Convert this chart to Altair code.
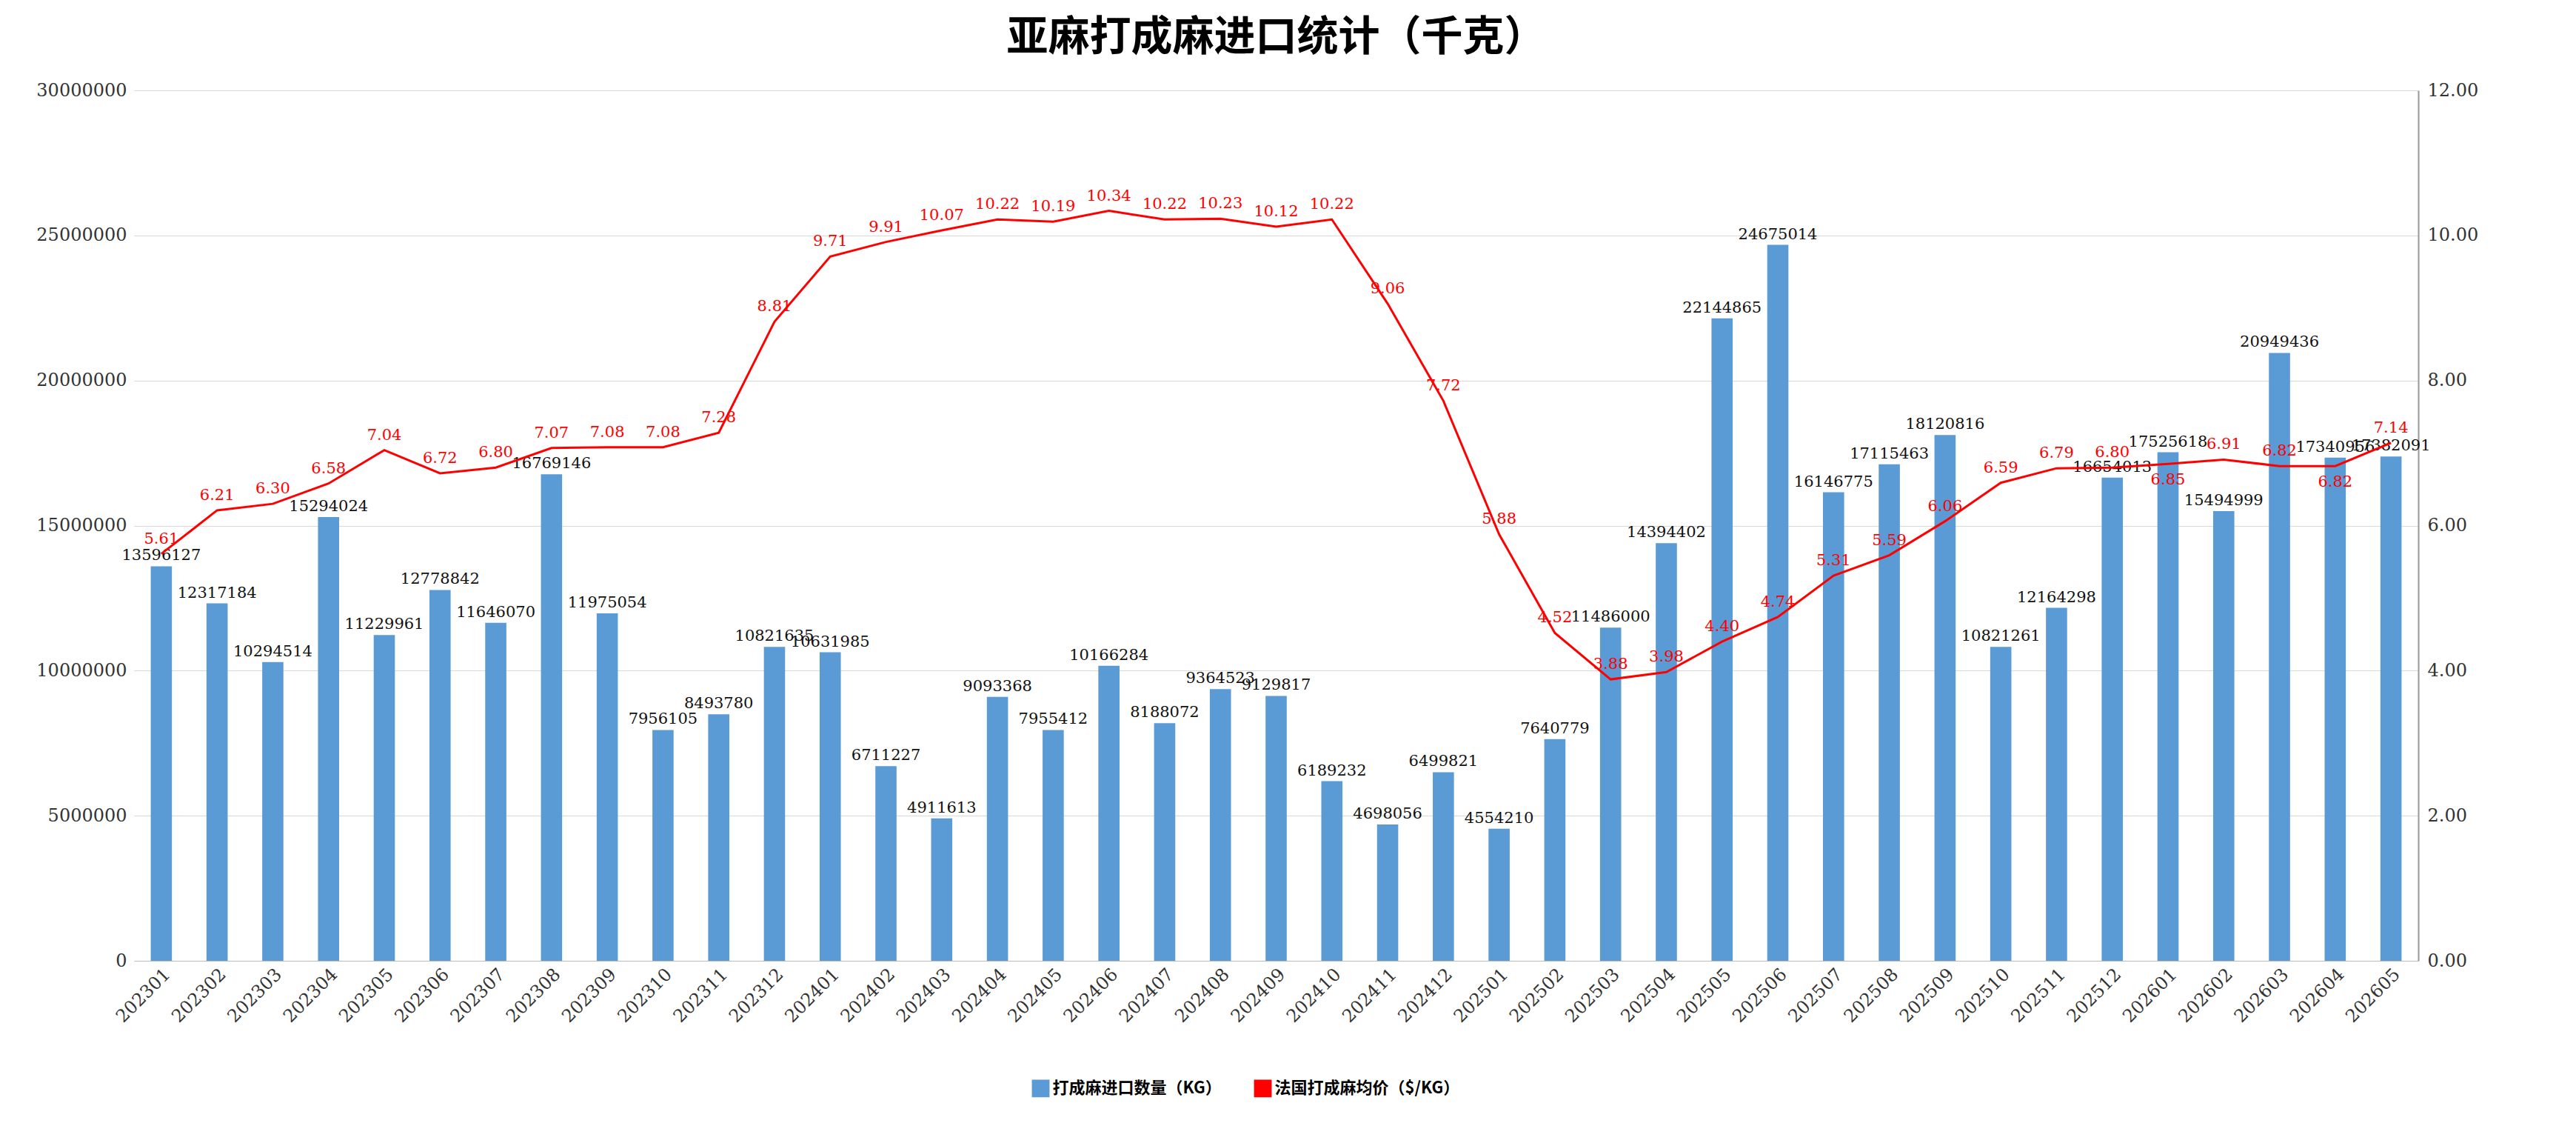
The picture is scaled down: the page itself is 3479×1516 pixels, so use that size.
import altair as alt
import pandas as pd

# ── data ─────────────────────────────────────────────────────────────
months = [
    "202301", "202302", "202303", "202304", "202305", "202306", "202307", "202308",
    "202309", "202310", "202311", "202312", "202401", "202402", "202403", "202404",
    "202405", "202406", "202407", "202408", "202409", "202410", "202411", "202412",
    "202501", "202502", "202503", "202504", "202505", "202506", "202507", "202508",
    "202509", "202510", "202511", "202512", "202601", "202602", "202603", "202604",
    "202605",
]
qty = [
    13596127, 12317184, 10294514, 15294024, 11229961, 12778842, 11646070, 16769146,
    11975054, 7956105, 8493780, 10821635, 10631985, 6711227, 4911613, 9093368,
    7955412, 10166284, 8188072, 9364523, 9129817, 6189232, 4698056, 6499821,
    4554210, 7640779, 11486000, 14394402, 22144865, 24675014, 16146775, 17115463,
    18120816, 10821261, 12164298, 16654013, 17525618, 15494999, 20949436, 17340956,
    17382091,
]
price = [
    5.61, 6.21, 6.30, 6.58, 7.04, 6.72, 6.80, 7.07,
    7.08, 7.08, 7.28, 8.81, 9.71, 9.91, 10.07, 10.22,
    10.19, 10.34, 10.22, 10.23, 10.12, 10.22, 9.06, 7.72,
    5.88, 4.52, 3.88, 3.98, 4.40, 4.74, 5.31, 5.59,
    6.06, 6.59, 6.79, 6.80, 6.85, 6.91, 6.82, 6.82,
    7.14,
]
price_below = ["202601", "202604"]
qty_name = "打成麻进口数量（KG）"
price_name = "法国打成麻均价（$/KG）"

df = pd.DataFrame({"month": months, "qty": qty, "price": price})
df["price_txt"] = [f"{p:.2f}" for p in price]
df["below"] = [m in price_below for m in months]

SERIF = "DejaVu Serif"
CJK = "Noto Sans CJK SC"
W, H = 3085, 1175

x = alt.X("month:N", title=None, sort=months,
          scale=alt.Scale(paddingInner=0.62, paddingOuter=0.3),
          axis=alt.Axis(labelAngle=-45, labelAlign="right", labelFont=SERIF,
                        labelFontSize=24, labelColor="#333", domainColor="#bbb",
                        ticks=False, labelPadding=6))

color = alt.Color("series:N", title=None,
                  scale=alt.Scale(domain=[qty_name, price_name], range=["#5b9bd5", "#ff0000"]),
                  legend=alt.Legend(orient="none", direction="horizontal",
                                    legendX=W / 2 - 330, legendY=H + 160,
                                    labelFont=CJK, labelFontSize=22, labelLimit=0,
                                    labelFontWeight="bold", symbolSize=500,
                                    columnPadding=40))

y_left = alt.Y("qty:Q", title=None,
               scale=alt.Scale(domain=[0, 30000000]),
               axis=alt.Axis(values=list(range(0, 30000001, 5000000)), format="d",
                             labelFont=SERIF, labelFontSize=24, labelColor="#333",
                             gridColor="#d9d9d9", domain=False, ticks=False, labelPadding=10))

bars = alt.Chart(df).transform_calculate(series=f"'{qty_name}'").mark_bar().encode(
    x=x, y=y_left, color=color)

bar_txt = alt.Chart(df).mark_text(dy=-14, font=SERIF, fontSize=21, color="#111").encode(
    x=x, y=y_left, text="qty:Q")

left = alt.layer(bars, bar_txt)

y_right = alt.Y("price:Q", title=None,
                scale=alt.Scale(domain=[0, 12]),
                axis=alt.Axis(orient="right", values=[0, 2, 4, 6, 8, 10, 12], format=".2f",
                              labelFont=SERIF, labelFontSize=24, labelColor="#333",
                              grid=False, domainColor="#999", domainWidth=2,
                              ticks=False, labelPadding=12))

line = alt.Chart(df).transform_calculate(series=f"'{price_name}'").mark_line(strokeWidth=3).encode(
    x=x, y=y_right, color=color)

txt_above = alt.Chart(df).transform_filter("!datum.below").mark_text(
    dy=-20, font=SERIF, fontSize=21, color="#ff0000").encode(
    x=x, y=y_right, text="price_txt:N")
txt_below = alt.Chart(df).transform_filter("datum.below").mark_text(
    dy=22, font=SERIF, fontSize=21, color="#ff0000").encode(
    x=x, y=y_right, text="price_txt:N")

right = alt.layer(line, txt_above, txt_below)

chart = (
    alt.layer(left, right)
    .resolve_scale(y="independent")
    .properties(
        width=W, height=H,
        title=alt.TitleParams("亚麻打成麻进口统计（千克）", font=CJK, fontSize=56,
                              fontWeight="bold", color="#000", offset=30),
        padding={"left": 40, "right": 20, "top": 15, "bottom": 10},
    )
    .configure_view(stroke=None)
)

chart.save("out.html", embed_options={"renderer": "svg", "actions": False})
